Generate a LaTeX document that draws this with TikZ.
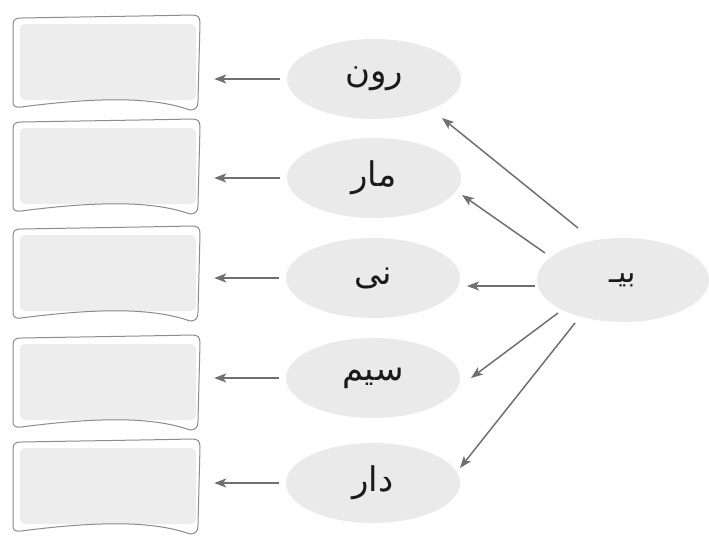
\documentclass[tikz,border=0pt]{standalone}
\usepackage{fontspec}
\usetikzlibrary{shapes.geometric,arrows.meta}
\TeXXeTstate=1
\newfontfamily\arabicfont[Script=Arabic]{DejaVu Sans}
\definecolor{ellfill}{HTML}{EAEAEA}
\definecolor{boxfill}{HTML}{EDEDED}
\definecolor{boxedge}{HTML}{8C8C8C}
\definecolor{arrcol}{HTML}{707070}
\definecolor{txtcol}{HTML}{1A1A1A}
\tikzset{
  word/.style={ellipse, fill=ellfill, minimum width=174pt, minimum height=80pt, inner sep=0pt,
    text=txtcol, font=\arabicfont\fontsize{34}{38}\selectfont},
  prefixell/.style={ellipse, fill=ellfill, minimum width=172pt, minimum height=84pt, inner sep=0pt,
    text=txtcol, font=\arabicfont\fontsize{30}{34}\selectfont},
  boxfillnode/.style={rectangle, fill=boxfill, rounded corners=5pt, minimum width=176pt, minimum height=76pt, inner sep=0pt},
  boxline/.style={draw=boxedge, line width=1pt},
  arr/.style={draw=arrcol, line width=1.5pt, -{Stealth[length=12pt,width=9pt,inset=3pt]}}
}
\newcommand\wavybox[3]{%
  \begin{scope}[shift={(#2,#3)}]
    \node[boxfillnode] (#1) at (2,-1) {};
    \draw[boxline] (-93,-38) .. controls (-93,-44) and (-90,-45) .. (-84,-45)
      .. controls (-30,-46) and (40,-47) .. (86,-48)
      .. controls (92,-48) and (94,-46) .. (94,-40)
      -- (92,38) .. controls (92,44) and (90,47) .. (84,47)
      .. controls (50,35) and (0,33) .. (-85,44)
      .. controls (-92,45) and (-93,42) .. (-93,38) -- cycle;
  \end{scope}}
\begin{document}
\begin{tikzpicture}[x=1pt,y=-1pt]
\useasboundingbox[fill=white] (0,0) rectangle (709,536);
% boxes
\wavybox{b1}{106}{63}
\wavybox{b2}{106}{167}
\wavybox{b3}{106}{274}
\wavybox{b4}{106}{383}
\wavybox{b5}{106}{487}
% word ellipses
\node[word] (w1) at (374,79) {\beginR رون\endR};
\node[word] (w2) at (374,178) {\beginR مار\endR};
\node[word] (w3) at (373,278) {\beginR نی\endR};
\node[word] (w4) at (373,378) {\beginR سیم\endR};
\node[word] (w5) at (373,483) {\beginR دار\endR};
\node[prefixell] (bib) at (623,280) {\beginR بیـ\endR};
% arrows to boxes
\foreach \i in {1,...,5}{
  \draw[arr, shorten <=7pt, shorten >=18pt] (w\i.west) -- (w\i.west -| b\i.east);
}
% arrows from prefix
\draw[arr] ([shift={(-45,-52)}]bib.center) -- ([shift={(68,39)}]w1.center);
\draw[arr] ([shift={(-78,-27)}]bib.center) -- ([shift={(88,17)}]w2.center);
\draw[arr] ([shift={(-88,6)}]bib.center) -- ([shift={(94,8)}]w3.center);
\draw[arr] ([shift={(-65,33)}]bib.center) -- ([shift={(98,0)}]w4.center);
\draw[arr] ([shift={(-48,43)}]bib.center) -- ([shift={(87,-15)}]w5.center);
\end{tikzpicture}
\end{document}
